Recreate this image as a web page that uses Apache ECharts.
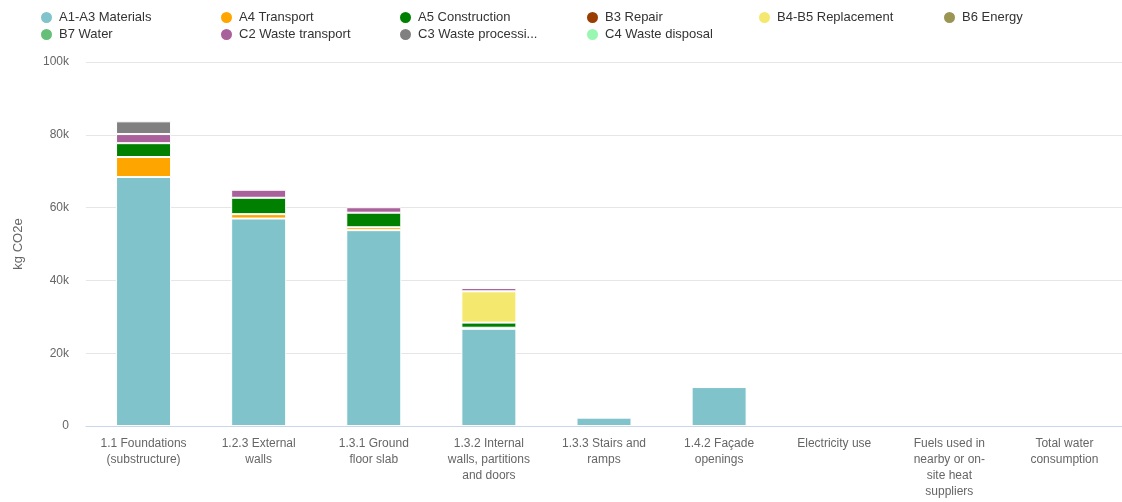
<!DOCTYPE html>
<html>
<head>
<meta charset="utf-8">
<script src="https://cdn.jsdelivr.net/npm/echarts@6/dist/echarts.min.js"></script>
<style>
  html, body { margin: 0; padding: 0; background: #fff; }
  #chart { width: 1122px; height: 502px; }
</style>
</head>
<body>
<div id="chart"></div>
<script>
// Building elements / energy & water categories
const categories = [
  '1.1 Foundations (substructure)',
  '1.2.3 External walls',
  '1.3.1 Ground floor slab',
  '1.3.2 Internal walls, partitions and doors',
  '1.3.3 Stairs and ramps',
  '1.4.2 Façade openings',
  'Electricity use',
  'Fuels used in nearby or on-site heat suppliers',
  'Total water consumption'
];
// Wrapped axis labels for each category
const tickLabels = [
  '1.1 Foundations\n(substructure)',
  '1.2.3 External\nwalls',
  '1.3.1 Ground\nfloor slab',
  '1.3.2 Internal\nwalls, partitions\nand doors',
  '1.3.3 Stairs and\nramps',
  '1.4.2 Façade\nopenings',
  'Electricity use',
  'Fuels used in\nnearby or on-\nsite heat\nsuppliers',
  'Total water\nconsumption'
];
const yTicks = [0, 20000, 40000, 60000, 80000, 100000];

// Life-cycle stage emissions, kg CO2e
const a1a3 = [68400, 57000, 53800, 26700, 2300, 10700, 0, 0, 0];
const a4   = [5500, 1200, 800, 300, 0, 0, 0, 0, 0];
const a5   = [3800, 4500, 4000, 1400, 0, 0, 0, 0, 0];
const b3   = [0, 0, 0, 0, 0, 0, 0, 0, 0];
const b4b5 = [0, 0, 0, 8600, 0, 0, 0, 0, 0];
const b6   = [0, 0, 0, 0, 0, 0, 0, 0, 0];
const b7   = [0, 0, 0, 0, 0, 0, 0, 0, 0];
const c2   = [2500, 2200, 1500, 900, 0, 0, 0, 0, 0];
const c3   = [3500, 0, 0, 0, 0, 0, 0, 0, 0];
const c4   = [0, 0, 0, 0, 0, 0, 0, 0, 0];

const stages = [
  { name: 'A1-A3 Materials',   data: a1a3, color: '#80c3cb' },
  { name: 'A4 Transport',      data: a4,   color: '#ffa500' },
  { name: 'A5 Construction',   data: a5,   color: '#008000' },
  { name: 'B3 Repair',         data: b3,   color: '#993d00' },
  { name: 'B4-B5 Replacement', data: b4b5, color: '#f4e86f' },
  { name: 'B6 Energy',         data: b6,   color: '#9b9553' },
  { name: 'B7 Water',          data: b7,   color: '#66bf79' },
  { name: 'C2 Waste transport',data: c2,   color: '#a8619a' },
  { name: 'C3 Waste processing', data: c3, color: '#808080' },
  { name: 'C4 Waste disposal', data: c4,   color: '#99f7b1' }
];

// Legend item positions (two rows)
const legendPos = [
  [39, 10], [219, 10], [398, 10], [585, 10], [757, 10], [942, 10],
  [39, 27], [219, 27], [398, 27], [585, 27]
];

const fontFamily = '"Liberation Sans", Arial, sans-serif';

const legends = stages.map((s, i) => ({
  data: [s.name],
  left: legendPos[i][0],
  top: legendPos[i][1],
  padding: 0,
  icon: 'circle',
  itemWidth: 13,
  itemHeight: 13,
  itemGap: 0,
  selectedMode: false,
  textStyle: Object.assign(
    { color: '#333', fontSize: 13, fontFamily: fontFamily, padding: [0, 0, 0, 1] },
    s.name === 'C3 Waste processing' ? { width: 124, overflow: 'truncate', ellipsis: '...' } : {}
  )
}));

const chart = echarts.init(document.getElementById('chart'), null, { renderer: 'canvas' });
chart.setOption({
  backgroundColor: '#fff',
  animation: false,
  legend: legends,
  grid: { left: 86, top: 62, width: 1039, height: 364, containLabel: false },
  xAxis: {
    type: 'category',
    data: categories,
    z: 5,
    axisLine: { lineStyle: { color: '#ccd6eb', width: 1 } },
    axisTick: { show: false },
    axisLabel: {
      color: '#666',
      fontSize: 12,
      fontFamily: fontFamily,
      lineHeight: 16,
      margin: 10,
      interval: 0,
      formatter: (v, idx) => tickLabels[idx]
    }
  },
  yAxis: {
    type: 'value',
    min: yTicks[0],
    max: yTicks[yTicks.length - 1],
    interval: yTicks[1] - yTicks[0],
    name: 'kg CO2e',
    nameLocation: 'middle',
    nameGap: 61,
    nameRotate: 90,
    nameTextStyle: { color: '#666', fontSize: 13, fontFamily: fontFamily },
    axisLine: { show: false },
    axisTick: { show: false },
    splitLine: { lineStyle: { color: '#e6e6e6', width: 1 } },
    axisLabel: {
      color: '#666',
      fontSize: 12,
      fontFamily: fontFamily,
      margin: 17,
      formatter: v => (v === 0 ? '0' : (v / 1000) + 'k')
    }
  },
  series: stages.map(s => ({
    name: s.name,
    type: 'bar',
    stack: 'total',
    // empty stages are left out so their borders do not cover the axis line
    data: s.data.map(v => (v === 0 ? '-' : v)),
    barWidth: 55,
    itemStyle: { color: s.color, borderColor: '#fff', borderWidth: 1 },
    emphasis: { disabled: true }
  }))
});
</script>
</body>
</html>
